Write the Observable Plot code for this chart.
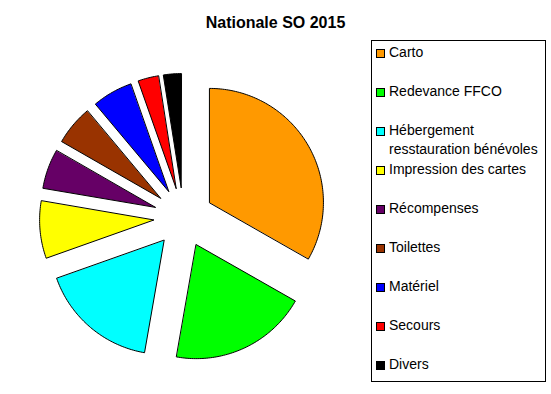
<!DOCTYPE html>
<html>
<head>
<meta charset="utf-8">
<script src="https://cdn.jsdelivr.net/npm/d3@7"></script>
<script src="https://cdn.jsdelivr.net/npm/@observablehq/plot@0.6"></script>
<style>
  html, body { margin: 0; padding: 0; background: #fff; }
  #wrap { position: relative; width: 551px; height: 394px; font-family: "Liberation Sans", Arial, sans-serif; overflow: hidden; }
  #title { position: absolute; left: 0; width: 551px; top: 14px; text-align: center; font-weight: bold; font-size: 16px; line-height: 18px; color: #000; }
  #chart { position: absolute; left: 0; top: 0; }
  #legend { position: absolute; left: 371px; top: 40px; width: 173px; height: 340px; border: 1px solid #000; box-sizing: content-box; }
  .item { position: absolute; left: 4px; font-size: 14px; line-height: 19px; color: #000; display: flex; align-items: flex-start; white-space: nowrap; }
  .sw { width: 7px; height: 7px; border: 1px solid #000; margin-top: 6px; margin-right: 4px; flex: none; }
</style>
</head>
<body>
<div id="wrap">
  <div id="chart"></div>
  <div id="title"></div>
  <div id="legend"></div>
</div>
<script>
const title = "Nationale SO 2015";
const categories = ["Carto", "Redevance FFCO", "Hébergement\nresstauration bénévoles", "Impression des cartes", "Récompenses", "Toilettes", "Matériel", "Secours", "Divers"];
const values = [33.2, 19.5, 16.8, 8.1, 5.6, 5.6, 5.7, 2.9, 2.5];
const colors = ["#FF9900", "#00FF00", "#00FFFF", "#FFFF00", "#660066", "#993300", "#0000FF", "#FF0000", "#000000"];

const R = 114;        // radius in px units
const explode = 30;   // explosion offset

const arcs = d3.pie().sort(null).value(d => d)(values);
const pts = [];
arcs.forEach((a, i) => {
  const mid = (a.startAngle + a.endAngle) / 2;
  const ox = Math.sin(mid) * explode, oy = Math.cos(mid) * explode;
  pts.push({k: i, x: ox, y: oy});
  const n = Math.max(8, Math.ceil((a.endAngle - a.startAngle) * 60));
  for (let j = 0; j <= n; j++) {
    const t = a.startAngle + (a.endAngle - a.startAngle) * j / n;
    pts.push({k: i, x: ox + Math.sin(t) * R, y: oy + Math.cos(t) * R});
  }
});

const plot = Plot.plot({
  width: 360, height: 394,
  margin: 0,
  x: {domain: [-183, 177], range: [0, 360], axis: null},
  y: {domain: [-177, 217], range: [394, 0], axis: null},
  color: {domain: d3.range(categories.length), range: colors},
  marks: [
    Plot.line(pts, {x: "x", y: "y", z: "k", fill: d => d.k, stroke: "#000", strokeWidth: 1, curve: "linear-closed"})
  ]
});
plot.style.background = "transparent";
document.getElementById("chart").append(plot);
document.getElementById("title").textContent = title;

const legend = document.getElementById("legend");
categories.forEach((c, i) => {
  const it = document.createElement("div");
  it.className = "item";
  it.style.top = (2 + i * 39) + "px";
  const sw = document.createElement("div");
  sw.className = "sw";
  sw.style.background = colors[i];
  const tx = document.createElement("div");
  c.split("\n").forEach((line, j) => {
    if (j) tx.append(document.createElement("br"));
    tx.append(document.createTextNode(line));
  });
  it.append(sw, tx);
  legend.append(it);
});
</script>
</body>
</html>
